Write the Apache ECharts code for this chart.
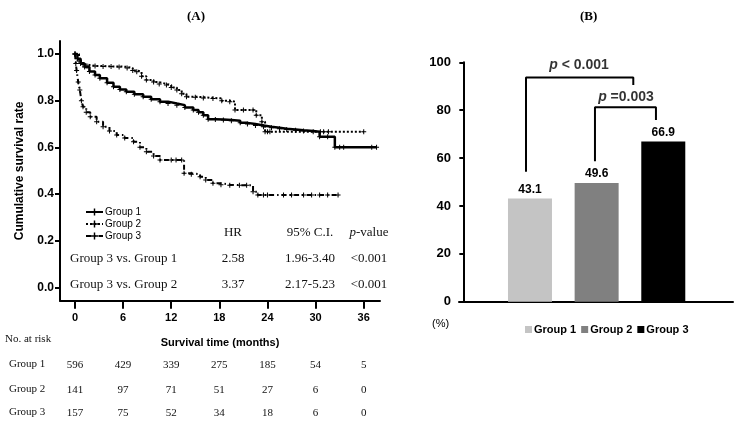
<!DOCTYPE html>
<html>
<head>
<meta charset="utf-8">
<script src="https://cdn.jsdelivr.net/npm/echarts@6/dist/echarts.min.js"></script>
<style>
html,body{margin:0;padding:0;background:#fff;}
#c{width:741px;height:426px;}
</style>
</head>
<body>
<div id="c"></div>
<script>
// ---------- Panel A data (Kaplan-Meier) ----------
var groupNames = ['Group 1', 'Group 2', 'Group 3'];
var kmTicks = [0, 6, 12, 18, 24, 30, 36];
var yTicksA = [0, 0.2, 0.4, 0.6, 0.8, 1.0];

// [months, survival] ; points with unchanged survival are censor marks
var km1 = [[0,1.0],[0.3,0.98],[0.7,0.96],[1.2,0.945],[1.8,0.925],[2.5,0.91],[3.1,0.896],[4.0,0.877],
  [4.8,0.86],[5.6,0.848],[6.4,0.838],[7.4,0.828],[8.5,0.817],[9.5,0.806],[10.6,0.796],[11.6,0.788],
  [12.7,0.781],[13.7,0.771],[14.75,0.76],[15.4,0.75],[16.0,0.738],[16.6,0.72],[17.5,0.719],[18.5,0.717],
  [19.5,0.714],[20.6,0.705],[21.5,0.70],[22.5,0.694],[23.5,0.688],[24.5,0.684],[25.5,0.68],[26.4,0.677],
  [27.5,0.673],[28.5,0.67],[29.7,0.667],[30.5,0.645],[31.5,0.645],[32.4,0.60],[33.0,0.60],[33.5,0.60],
  [37.0,0.60],[37.6,0.60]];
var km2 = [[0,1.0],[0.5,0.97],[1.0,0.955],[1.5,0.949],[2.5,0.949],[3.5,0.947],[4.5,0.947],[5.5,0.945],
  [6.5,0.94],[7.2,0.93],[7.7,0.924],[8.3,0.905],[8.9,0.889],[9.8,0.88],[10.5,0.872],[11.4,0.867],
  [12.0,0.857],[12.7,0.846],[13.3,0.83],[13.9,0.817],[15.0,0.815],[16.0,0.812],[17.2,0.81],[18.3,0.80],
  [19.3,0.796],[19.95,0.76],[21.0,0.76],[22.2,0.76],[22.6,0.738],[23.3,0.71],[23.7,0.667],[24.0,0.667],
  [24.3,0.667],[30.6,0.667],[31.0,0.667],[31.6,0.667],[36.0,0.667]];
var km3 = [[0,1.0],[0.1,0.96],[0.2,0.93],[0.4,0.88],[0.6,0.846],[0.8,0.80],[1.0,0.774],[1.4,0.75],
  [1.9,0.731],[2.7,0.71],[3.5,0.688],[4.3,0.67],[5.2,0.653],[6.2,0.64],[7.3,0.624],[8.1,0.60],
  [8.9,0.581],[9.8,0.563],[10.6,0.546],[12.0,0.546],[12.6,0.546],[13.3,0.546],[13.6,0.489],[14.5,0.485],
  [15.6,0.474],[16.3,0.46],[17.2,0.446],[18.2,0.44],[19.3,0.438],[20.5,0.438],[21.4,0.438],[22.2,0.41],
  [22.8,0.396],[23.5,0.396],[24.0,0.396],[26.0,0.396],[27.0,0.396],[28.5,0.396],[29.5,0.396],
  [30.5,0.396],[31.5,0.396],[32.8,0.396]];

var riskG1 = [596, 429, 339, 275, 185, 54, 5];
var riskG2 = [141, 97, 71, 51, 27, 6, 0];
var riskG3 = [157, 75, 52, 34, 18, 6, 0];

var hrHeader = ['HR', '95% C.I.', 'p-value'];
var hrRowNames = ['Group 3 vs. Group 1', 'Group 3 vs. Group 2'];
var hrValues = ['2.58', '3.37'];
var ciValues = ['1.96-3.40', '2.17-5.23'];
var pValues = ['<0.001', '<0.001'];

// ---------- Panel B data ----------
var barPos = [1, 2, 3];
var barValues = [43.1, 49.6, 66.9];
var barColors = ['#c4c4c4', '#808080', '#000000'];
var bracket1 = [[0.94, 54.3], [0.94, 93.7], [2.55, 93.7], [2.55, 90.5]];
var bracket2 = [[1.975, 58.7], [1.975, 81.2], [2.89, 81.2], [2.89, 75.9]];
var pLabels = [[1.735, 98.8, '< 0.001'], [2.44, 85.6, '=0.003']];

var plus = 'path://M4,0h2v4h4v2h-4v4h-2v-4h-4v-2h4z';
var sans = 'Liberation Sans, Arial, sans-serif';
var serif = 'Liberation Serif, Times New Roman, serif';

var chart = echarts.init(document.getElementById('c'), null, {renderer: 'canvas'});

function riskAxis(arr, offset) {
  return {
    type: 'value', gridIndex: 0, position: 'bottom', offset: offset,
    min: -1.87, max: 38.03,
    axisLine: {show: false}, axisTick: {show: false}, splitLine: {show: false},
    axisLabel: {
      customValues: kmTicks, margin: 0, verticalAlign: 'middle',
      fontFamily: serif, fontSize: 11, color: '#111',
      formatter: function (v) { var i = kmTicks.indexOf(v); return i >= 0 ? String(arr[i]) : ''; }
    }
  };
}

var kmStyles = [
  {type: 'solid', width: 2.5},
  {type: 'dotted', width: 2},
  {type: [5, 3, 1.5, 3], width: 2}
];
var kmData = [km1, km2, km3];

var series = [];
kmData.forEach(function (d, i) {
  series.push({
    name: 'KM ' + groupNames[i], type: 'line', xAxisIndex: 0, yAxisIndex: 0,
    data: d, step: 'end', symbol: plus, symbolSize: 5, showSymbol: true,
    lineStyle: {color: '#000', width: kmStyles[i].width, type: kmStyles[i].type},
    itemStyle: {color: '#000'}, z: 3 - i
  });
});
barValues.forEach(function (v, i) {
  series.push({
    name: groupNames[i], type: 'bar', xAxisIndex: 4, yAxisIndex: 1,
    data: [[barPos[i], v]], barWidth: 44, barGap: '-100%',
    itemStyle: {color: barColors[i]},
    label: {show: true, position: 'top', distance: 3, fontFamily: sans, fontWeight: 'bold',
      fontSize: 12, color: '#000', formatter: function (p) { return p.value[1].toFixed(1); }}
  });
});
[bracket1, bracket2].forEach(function (b) {
  series.push({
    type: 'line', xAxisIndex: 4, yAxisIndex: 1, data: b, symbol: 'none',
    lineStyle: {color: '#000', width: 2}, silent: true
  });
});
series.push({
  type: 'scatter', xAxisIndex: 4, yAxisIndex: 1, symbolSize: 0,
  data: pLabels.map(function (p) { return [p[0], p[1], p[2]]; }),
  label: {
    show: true, position: 'inside', fontFamily: sans, fontWeight: 'bold', fontSize: 14, color: '#000',
    formatter: function (p) { return '{i|p} ' + p.value[2]; },
    rich: {i: {fontStyle: 'italic', fontFamily: sans, fontWeight: 'bold', fontSize: 14, color: '#000'}}
  }
});

var graphics = [
  {type: 'text', left: 187, top: 10, style: {text: '(A)', font: 'bold 13px ' + serif, fill: '#000'}},
  {type: 'text', left: 580, top: 10, style: {text: '(B)', font: 'bold 13px ' + serif, fill: '#000'}},
  {type: 'text', left: 432, top: 318, style: {text: '(%)', font: '11px ' + sans, fill: '#000'}},
  {type: 'text', left: 5, top: 334, style: {text: 'No. at risk', font: '11px ' + serif, fill: '#111'}}
];
groupNames.forEach(function (g, i) {
  graphics.push({type: 'text', left: 9, top: [359, 384, 407][i], style: {text: g, font: '11px ' + serif, fill: '#111'}});
});
var colX = [233, 310, 369];
hrHeader.forEach(function (h, j) {
  graphics.push({type: 'text', x: colX[j], y: 233, style: {
    text: j === 2 ? '{i|p}-value' : h, font: '13px ' + serif, fill: '#111',
    align: 'center', verticalAlign: 'middle',
    rich: {i: {fontStyle: 'italic', font: 'italic 13px ' + serif, fill: '#111'}}
  }});
});
hrRowNames.forEach(function (r, k) {
  var y = [259, 285][k];
  graphics.push({type: 'text', x: 70, y: y, style: {text: r, font: '13px ' + serif, fill: '#111', verticalAlign: 'middle'}});
  graphics.push({type: 'text', x: colX[0], y: y, style: {text: hrValues[k], font: '13px ' + serif, fill: '#111', align: 'center', verticalAlign: 'middle'}});
  graphics.push({type: 'text', x: colX[1], y: y, style: {text: ciValues[k], font: '13px ' + serif, fill: '#111', align: 'center', verticalAlign: 'middle'}});
  graphics.push({type: 'text', x: colX[2], y: y, style: {text: pValues[k], font: '13px ' + serif, fill: '#111', align: 'center', verticalAlign: 'middle'}});
});

var option = {
  animation: false,
  backgroundColor: '#fff',
  grid: [
    {left: 60, top: 41, width: 320, height: 259.7, containLabel: false},
    {left: 459, top: 62.3, width: 274, height: 239.4, containLabel: false}
  ],
  legend: [
    {
      data: ['KM Group 1', 'KM Group 2', 'KM Group 3'], orient: 'vertical', left: 80, top: 202,
      itemWidth: 17, itemHeight: 9, itemGap: 2,
      formatter: function (n) { return n.replace('KM ', ''); },
      textStyle: {fontFamily: sans, fontSize: 10, color: '#000', padding: [0, 0, 0, -3]}
    },
    {
      data: groupNames, orient: 'horizontal', left: 520, top: 319,
      icon: 'rect', itemWidth: 7, itemHeight: 7, itemGap: 5,
      textStyle: {fontFamily: sans, fontSize: 11, fontWeight: 'bold', color: '#000', padding: [0, 0, 0, -3]}
    }
  ],
  xAxis: [
    {
      type: 'value', gridIndex: 0, min: -1.87, max: 38.03,
      name: 'Survival time (months)', nameLocation: 'middle', nameGap: 37,
      nameTextStyle: {fontFamily: sans, fontSize: 11, fontWeight: 'bold', color: '#000'},
      axisLine: {show: true, onZero: false, lineStyle: {color: '#000', width: 2}},
      axisTick: {show: true, customValues: kmTicks, length: 8, lineStyle: {color: '#000', width: 2}},
      axisLabel: {customValues: kmTicks, margin: 12, fontFamily: sans, fontSize: 11, fontWeight: 'bold', color: '#000'},
      splitLine: {show: false}
    },
    riskAxis(riskG1, 64),
    riskAxis(riskG2, 89),
    riskAxis(riskG3, 112),
    {
      type: 'value', gridIndex: 1, min: -0.065, max: 4.046,
      axisLine: {show: true, onZero: false, lineStyle: {color: '#000', width: 2}},
      axisTick: {show: false}, axisLabel: {show: false}, splitLine: {show: false}
    }
  ],
  yAxis: [
    {
      type: 'value', gridIndex: 0, min: -0.0574, max: 1.056,
      name: 'Cumulative survival rate', nameLocation: 'middle', nameGap: 34,
      nameTextStyle: {fontFamily: sans, fontSize: 12, fontWeight: 'bold', color: '#000'},
      axisLine: {show: true, onZero: false, lineStyle: {color: '#000', width: 2}},
      axisTick: {show: true, customValues: yTicksA, length: 5, lineStyle: {color: '#000', width: 2}},
      axisLabel: {customValues: yTicksA, margin: 6, fontFamily: sans, fontSize: 12, fontWeight: 'bold', color: '#000',
        formatter: function (v) { return v.toFixed(1); }},
      splitLine: {show: false}
    },
    {
      type: 'value', gridIndex: 1, min: 0, max: 100, interval: 20,
      axisLine: {show: true, lineStyle: {color: '#000', width: 2}},
      axisTick: {show: true, length: 4, lineStyle: {color: '#000', width: 2}},
      axisLabel: {margin: 8, fontFamily: sans, fontSize: 13, fontWeight: 'bold', color: '#000'},
      splitLine: {show: false}
    }
  ],
  series: series,
  graphic: graphics
};
chart.setOption(option);
</script>
</body>
</html>
